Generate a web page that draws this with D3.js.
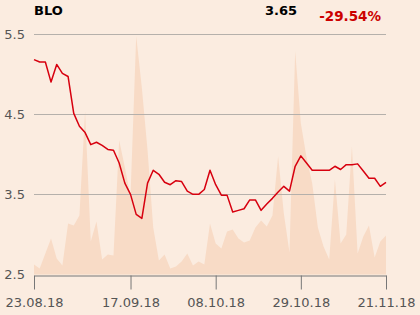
<!DOCTYPE html>
<html>
<head>
<meta charset="utf-8">
<script src="https://cdn.jsdelivr.net/npm/d3@7"></script>
<style>
  html, body { margin: 0; padding: 0; background: #fbece0; }
  svg { display: block; font-family: "DejaVu Sans", sans-serif; }
</style>
</head>
<body>
<div id="chart"></div>
<script>
// closing price per trading day (index based x axis)
const prices = [
  5.18, 5.15, 5.15, 4.90, 5.12, 5.01, 4.97, 4.51, 4.35, 4.27,
  4.12, 4.15, 4.11, 4.06, 4.05, 3.89, 3.64, 3.50, 3.25, 3.20,
  3.64, 3.80, 3.75, 3.65, 3.62, 3.67, 3.66, 3.54, 3.50, 3.50,
  3.56, 3.80, 3.62, 3.49, 3.49, 3.28, 3.30, 3.32, 3.43, 3.43,
  3.30, 3.38, 3.45, 3.53, 3.60, 3.54, 3.85, 3.98, 3.89, 3.80,
  3.80, 3.80, 3.80, 3.85, 3.81, 3.87, 3.87, 3.88, 3.79, 3.70,
  3.70, 3.60, 3.65
];
// traded volume (arbitrary units)
const volumes = [
  10, 6, 21, 36, 16, 9, 51, 49, 59, 163,
  33, 53, 15, 20, 19, 134, 107, 78, 238, 186,
  124, 47, 14, 20, 6, 8, 13, 21, 9, 13,
  10, 51, 31, 26, 43, 45, 36, 32, 34, 47,
  54, 48, 59, 118, 61, 22, 223, 151, 117, 91,
  47, 28, 15, 95, 31, 40, 128, 21, 38, 49,
  17, 33, 39
];
const tickIndex = [0, 17, 32, 47, 62];
const tickLabels = ["23.08.18", "17.09.18", "08.10.18", "29.10.18", "21.11.18"];
const yTicks = [2.5, 3.5, 4.5, 5.5];
const ticker = "BLO";

const width = 420, height = 315;
const margin = { top: 34, right: 34, bottom: 40.5, left: 34 };

const svg = d3.select("#chart").append("svg")
  .attr("width", width)
  .attr("height", height);

const x = d3.scaleLinear()
  .domain([0, prices.length - 1])
  .range([margin.left, width - margin.right]);

const y = d3.scaleLinear()
  .domain([2.5, 5.5])
  .range([height - margin.bottom, margin.top]);

const yVol = d3.scaleLinear()
  .domain([0, 240])
  .range([height - margin.bottom, margin.top]);

// volume area in the background
const area = d3.area()
  .x((d, i) => x(i))
  .y0(yVol(0))
  .y1(d => yVol(d));

svg.append("path")
  .datum(volumes)
  .attr("fill", "#f8dbc6")
  .attr("d", area);

// gridlines
const grid = svg.append("g");
grid.selectAll("line")
  .data(yTicks.filter(t => t > 2.5))
  .enter().append("line")
  .attr("x1", x(0))
  .attr("x2", x(prices.length - 1))
  .attr("y1", d => Math.round(y(d)) + 0.5)
  .attr("y2", d => Math.round(y(d)) + 0.5)
  .attr("stroke", "#b5b0ab")
  .attr("stroke-width", 1);

// y labels
svg.append("g").selectAll("text")
  .data(yTicks)
  .enter().append("text")
  .attr("x", 25)
  .attr("y", d => y(d) + 4.5)
  .attr("text-anchor", "end")
  .attr("font-size", 13)
  .attr("fill", "#555")
  .text(d => d.toFixed(1));

// x axis
const xAxis = d3.axisBottom(x)
  .tickValues(tickIndex)
  .tickFormat((d, i) => tickLabels[i])
  .tickSize(14)
  .tickSizeOuter(0)
  .tickPadding(8);

const gx = svg.append("g")
  .attr("transform", `translate(0,${Math.round(y(2.5)) + 0.5})`)
  .call(xAxis);
gx.select(".domain").attr("stroke", "#777");
gx.selectAll(".tick line").attr("stroke", "#777");
gx.selectAll(".tick text")
  .attr("font-size", 13)
  .attr("font-family", "DejaVu Sans, sans-serif")
  .attr("fill", "#555");

// price line
const line = d3.line()
  .x((d, i) => x(i))
  .y(d => y(d));

svg.append("path")
  .datum(prices)
  .attr("fill", "none")
  .attr("stroke", "#d7000f")
  .attr("stroke-width", 1.5)
  .attr("stroke-linejoin", "round")
  .attr("d", line);

// header texts
const last = prices[prices.length - 1];
const change = (last / prices[0] - 1) * 100;

svg.append("text")
  .attr("x", 34)
  .attr("y", 15)
  .attr("font-size", 13)
  .attr("font-weight", "bold")
  .attr("fill", "#000")
  .text(ticker);

svg.append("text")
  .attr("x", 297)
  .attr("y", 15)
  .attr("text-anchor", "end")
  .attr("font-size", 13)
  .attr("font-weight", "bold")
  .attr("fill", "#000")
  .text(last.toFixed(2));

svg.append("text")
  .attr("x", 381)
  .attr("y", 21)
  .attr("text-anchor", "end")
  .attr("font-size", 13.5)
  .attr("font-weight", "bold")
  .attr("fill", "#cc0000")
  .text(change.toFixed(2) + "%");
</script>
</body>
</html>
